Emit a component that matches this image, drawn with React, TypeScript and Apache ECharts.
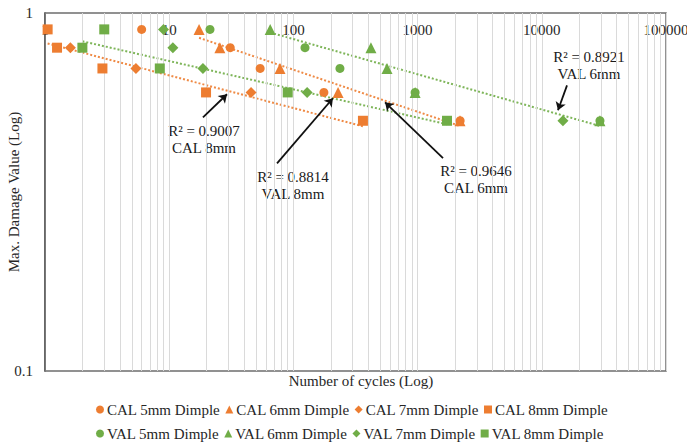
import React, { useEffect, useRef } from "react";
import * as echarts from "echarts";

const FONT = '"Liberation Serif", "Times New Roman", serif';
const ORANGE = "#ED7D31";
const GREEN = "#70AD47";

// Series names
const calNames = ["CAL 5mm Dimple", "CAL 6mm Dimple", "CAL 7mm Dimple", "CAL 8mm Dimple"];
const valNames = ["VAL 5mm Dimple", "VAL 6mm Dimple", "VAL 7mm Dimple", "VAL 8mm Dimple"];

// Data (number of cycles, max damage value)
const cal5Cycles = [6.0, 31, 54, 176, 2200];
const cal5Damage = [0.9, 0.8, 0.7, 0.6, 0.5];
const cal6Cycles = [17.4, 25.6, 78, 229, 2195];
const cal6Damage = [0.9, 0.8, 0.7, 0.6, 0.5];
const cal7Cycles = [1.6, 5.4, 45.6];
const cal7Damage = [0.8, 0.7, 0.6];
const cal8Cycles = [1.05, 1.25, 2.9, 19.8, 363];
const cal8Damage = [0.9, 0.8, 0.7, 0.6, 0.5];

const val5Cycles = [21.3, 124, 237, 955, 29400];
const val5Damage = [0.9, 0.8, 0.7, 0.6, 0.5];
const val6Cycles = [65, 421, 567, 955, 29400];
const val6Damage = [0.9, 0.8, 0.7, 0.6, 0.5];
const val7Cycles = [9, 10.7, 18.7, 129, 14800];
const val7Damage = [0.9, 0.8, 0.7, 0.6, 0.5];
const val8Cycles = [3, 2, 8.4, 90, 1725];
const val8Damage = [0.9, 0.8, 0.7, 0.6, 0.5];

// Axis ticks
const xMajorTicks = [1, 10, 100, 1000, 10000, 100000];
const yTickValues = [0.1, 1];

// Annotation labels
const annoTexts = [
  ["R² = 0.9007", "CAL 8mm"],
  ["R² = 0.8814", "VAL 8mm"],
  ["R² = 0.9646", "CAL 6mm"],
  ["R² = 0.8921", "VAL 6mm"],
];

function pairs(xs: number[], ys: number[]) {
  return xs.map((x, i) => [x, ys[i]]);
}

function powerFit(xs: number[], ys: number[]) {
  const lx = xs.map(Math.log10);
  const ly = ys.map(Math.log10);
  const n = xs.length;
  const mx = lx.reduce((a, b) => a + b, 0) / n;
  const my = ly.reduce((a, b) => a + b, 0) / n;
  let sxy = 0;
  let sxx = 0;
  for (let i = 0; i < n; i++) {
    sxy += (lx[i] - mx) * (ly[i] - my);
    sxx += (lx[i] - mx) * (lx[i] - mx);
  }
  const b = sxy / sxx;
  const a = my - b * mx;
  const x0 = Math.min(...xs);
  const x1 = Math.max(...xs);
  return [
    [x0, Math.pow(10, a + b * Math.log10(x0))],
    [x1, Math.pow(10, a + b * Math.log10(x1))],
  ];
}

export default function App() {
  const ref = useRef<HTMLDivElement>(null);
  useEffect(() => {
    if (!ref.current) return;
    const chart = echarts.init(ref.current, undefined, { renderer: "svg" });

    const minorTicks: number[] = [];
    xMajorTicks.slice(0, -1).forEach((d) => {
      for (let m = 2; m <= 9; m++) minorTicks.push(m * d);
    });

    const scatter = (name: string, xs: number[], ys: number[], symbol: string, size: number, color: string) => ({
      name,
      type: "scatter",
      symbol,
      symbolSize: size,
      itemStyle: { color, opacity: 1 },
      data: pairs(xs, ys),
      z: 5,
    });

    const trend = (xs: number[], ys: number[], color: string) => ({
      type: "line",
      data: powerFit(xs, ys),
      showSymbol: false,
      symbol: "none",
      silent: true,
      lineStyle: { color, width: 2, type: "dotted", opacity: 0.9 },
      z: 3,
    });

    const arrows = [
      [[18.7, 0.511], [29.2, 0.593]],
      [[73.8, 0.38], [208, 0.578]],
      [[1602, 0.393], [547, 0.563]],
      [[15960, 0.628], [13500, 0.535]],
    ];
    const annoPos = [
      [204, 139],
      [293, 185],
      [476, 179],
      [589, 65],
    ];

    const TEXT = "#262626";

    const legendCommon = {
      left: 91,
      itemWidth: 8,
      itemHeight: 8,
      itemGap: 5,
      selectedMode: false,
      textStyle: { fontSize: 15, color: TEXT, fontFamily: FONT, padding: [0, 0, 0, -2] },
    };

    const option: any = {
      animation: false,
      textStyle: { fontFamily: FONT },
      grid: {
        left: 45,
        right: 21,
        top: 13,
        bottom: 74,
        show: true,
        containLabel: false,
        outerBoundsMode: "none",
        borderColor: "#6e6e6e",
        borderWidth: 1.5,
      },
      xAxis: {
        type: "log",
        logBase: 10,
        min: 1,
        max: 100000,
        position: "top",
        axisLine: { show: false },
        axisTick: { show: false },
        axisLabel: {
          inside: true,
          margin: 9,
          fontSize: 15,
          color: TEXT,
          fontFamily: FONT,
          formatter: (v: number) => String(Math.round(v)),
        },
        splitLine: { show: true, lineStyle: { color: "#dadada", width: 1 } },
      },
      yAxis: {
        type: "log",
        logBase: 10,
        min: yTickValues[0],
        max: yTickValues[1],
        name: "Max. Damage Value (Log)",
        nameLocation: "middle",
        nameGap: 24,
        nameMoveOverlap: false,
        nameTextStyle: { fontSize: 15, color: TEXT, fontFamily: FONT },
        axisLine: { show: true, lineStyle: { color: "#595959", width: 1.5 } },
        axisTick: { show: false },
        axisLabel: {
          fontSize: 15,
          color: TEXT,
          margin: 12,
          fontFamily: FONT,
          formatter: (v: number) => String(parseFloat(v.toPrecision(3))),
        },
        splitLine: { show: false },
      },
      legend: [
        { ...legendCommon, data: calNames, top: 397 },
        { ...legendCommon, data: valNames, top: 421 },
      ],
      graphic: [
        {
          type: "text",
          x: 361,
          y: 381,
          style: {
            text: "Number of cycles (Log)",
            font: `15px ${FONT}`,
            fill: TEXT,
            align: "center",
            verticalAlign: "middle",
          },
        },
        ...annoTexts.map((lines, i) => ({
          type: "text",
          x: annoPos[i][0],
          y: annoPos[i][1],
          style: {
            text: lines.join("\n"),
            font: `15px ${FONT}`,
            fill: "#1a1a1a",
            align: "center",
            verticalAlign: "middle",
            lineHeight: 17,
          },
        })),
      ],
      series: [
        {
          type: "scatter",
          data: [],
          silent: true,
          z: 1,
          markLine: {
            silent: true,
            symbol: "none",
            label: { show: false },
            lineStyle: { color: "#dadada", width: 1, type: "solid" },
            data: minorTicks.map((v) => ({ xAxis: v })),
          },
        },
        trend(cal8Cycles, cal8Damage, ORANGE),
        trend(val8Cycles, val8Damage, GREEN),
        trend(cal6Cycles, cal6Damage, ORANGE),
        trend(val6Cycles, val6Damage, GREEN),
        scatter(calNames[0], cal5Cycles, cal5Damage, "circle", 9, ORANGE),
        scatter(calNames[1], cal6Cycles, cal6Damage, "triangle", 11, ORANGE),
        scatter(calNames[2], cal7Cycles, cal7Damage, "diamond", 11, ORANGE),
        scatter(calNames[3], cal8Cycles, cal8Damage, "rect", 10, ORANGE),
        scatter(valNames[0], val5Cycles, val5Damage, "circle", 9, GREEN),
        scatter(valNames[1], val6Cycles, val6Damage, "triangle", 11, GREEN),
        scatter(valNames[2], val7Cycles, val7Damage, "diamond", 11, GREEN),
        scatter(valNames[3], val8Cycles, val8Damage, "rect", 10, GREEN),
        {
          type: "scatter",
          data: [],
          silent: true,
          z: 10,
          markLine: {
            silent: true,
            symbol: ["none", "arrow"],
            symbolSize: 8,
            label: { show: false },
            lineStyle: { color: "#111", width: 1.8, type: "solid" },
            data: arrows.map(([a, b]) => [{ coord: a }, { coord: b }]),
          },
        },
      ],
    };

    chart.setOption(option);
    return () => chart.dispose();
  }, []);

  return (
    <div
      ref={ref}
      style={{ position: "fixed", left: 0, top: 0, width: 687, height: 445, background: "#fff" }}
    />
  );
}
